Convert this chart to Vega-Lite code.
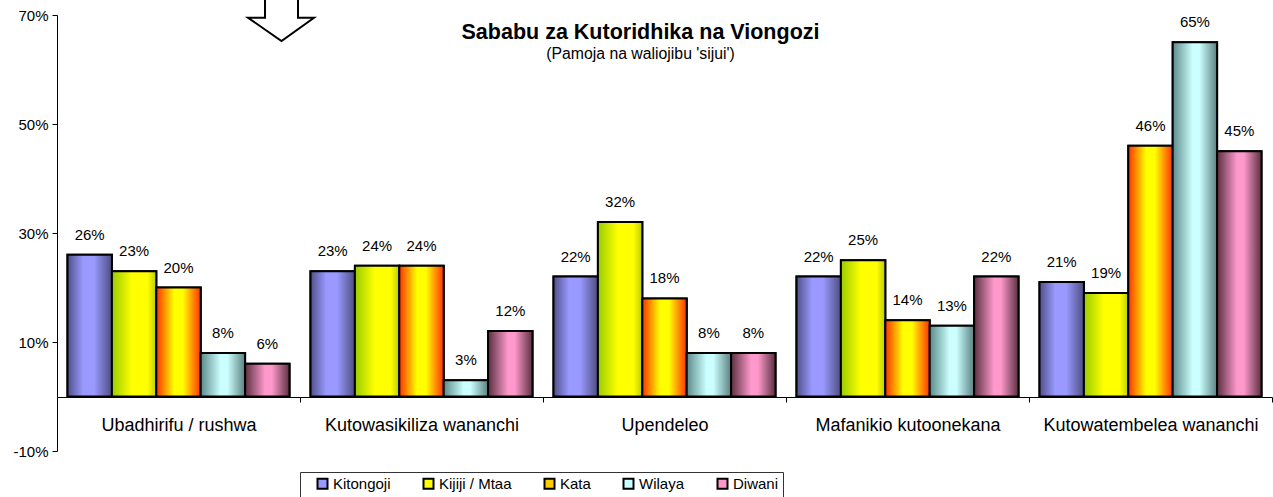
{
  "$schema": "https://vega.github.io/schema/vega-lite/v6.json",
  "width": 1215,
  "height": 436,
  "autosize": "none",
  "padding": {"left": 57, "top": 15, "right": 1, "bottom": 46},
  "background": "white",
  "config": {"font": "Liberation Sans", "view": {"stroke": null}},
  "title": {
    "text": "Sababu za Kutoridhika na Viongozi",
    "subtitle": "(Pamoja na waliojibu 'sijui')",
    "fontSize": 21.5,
    "fontWeight": "bold",
    "subtitleFontSize": 15.8,
    "color": "black",
    "subtitleColor": "black",
    "anchor": "middle",
    "frame": "group",
    "dx": -24,
    "offset": -67,
    "subtitlePadding": 4
  },
  "data": {
    "values": [
      {"sababu": "Ubadhirifu / rushwa", "ngazi": "Kitongoji", "asilimia": 0.26},
      {"sababu": "Ubadhirifu / rushwa", "ngazi": "Kijiji / Mtaa", "asilimia": 0.23},
      {"sababu": "Ubadhirifu / rushwa", "ngazi": "Kata", "asilimia": 0.20},
      {"sababu": "Ubadhirifu / rushwa", "ngazi": "Wilaya", "asilimia": 0.08},
      {"sababu": "Ubadhirifu / rushwa", "ngazi": "Diwani", "asilimia": 0.06},
      {"sababu": "Kutowasikiliza wananchi", "ngazi": "Kitongoji", "asilimia": 0.23},
      {"sababu": "Kutowasikiliza wananchi", "ngazi": "Kijiji / Mtaa", "asilimia": 0.24},
      {"sababu": "Kutowasikiliza wananchi", "ngazi": "Kata", "asilimia": 0.24},
      {"sababu": "Kutowasikiliza wananchi", "ngazi": "Wilaya", "asilimia": 0.03},
      {"sababu": "Kutowasikiliza wananchi", "ngazi": "Diwani", "asilimia": 0.12},
      {"sababu": "Upendeleo", "ngazi": "Kitongoji", "asilimia": 0.22},
      {"sababu": "Upendeleo", "ngazi": "Kijiji / Mtaa", "asilimia": 0.32},
      {"sababu": "Upendeleo", "ngazi": "Kata", "asilimia": 0.18},
      {"sababu": "Upendeleo", "ngazi": "Wilaya", "asilimia": 0.08},
      {"sababu": "Upendeleo", "ngazi": "Diwani", "asilimia": 0.08},
      {"sababu": "Mafanikio kutoonekana", "ngazi": "Kitongoji", "asilimia": 0.22},
      {"sababu": "Mafanikio kutoonekana", "ngazi": "Kijiji / Mtaa", "asilimia": 0.25},
      {"sababu": "Mafanikio kutoonekana", "ngazi": "Kata", "asilimia": 0.14},
      {"sababu": "Mafanikio kutoonekana", "ngazi": "Wilaya", "asilimia": 0.13},
      {"sababu": "Mafanikio kutoonekana", "ngazi": "Diwani", "asilimia": 0.22},
      {"sababu": "Kutowatembelea wananchi", "ngazi": "Kitongoji", "asilimia": 0.21},
      {"sababu": "Kutowatembelea wananchi", "ngazi": "Kijiji / Mtaa", "asilimia": 0.19},
      {"sababu": "Kutowatembelea wananchi", "ngazi": "Kata", "asilimia": 0.46},
      {"sababu": "Kutowatembelea wananchi", "ngazi": "Wilaya", "asilimia": 0.65},
      {"sababu": "Kutowatembelea wananchi", "ngazi": "Diwani", "asilimia": 0.45}
    ]
  },
  "encoding": {
    "x": {
      "field": "sababu",
      "type": "nominal",
      "sort": ["Ubadhirifu / rushwa", "Kutowasikiliza wananchi", "Upendeleo", "Mafanikio kutoonekana", "Kutowatembelea wananchi"],
      "scale": {"paddingInner": 0, "paddingOuter": 0},
      "axis": {
        "title": null,
        "orient": "bottom",
        "offset": -54,
        "labelAngle": 0,
        "labelFontSize": 18,
        "labelColor": "black",
        "labelPadding": 14,
        "labelLimit": 0,
        "domainColor": "black",
        "domainWidth": 1,
        "tickColor": "black",
        "tickSize": 5,
        "tickBand": "extent"
      }
    },
    "xOffset": {
      "field": "ngazi",
      "type": "nominal",
      "scale": {"domain": ["Kitongoji", "Kijiji / Mtaa", "Kata", "Wilaya", "Diwani"], "paddingInner": 0, "paddingOuter": 0.2365}
    },
    "y": {
      "field": "asilimia",
      "type": "quantitative",
      "scale": {"domain": [-0.1, 0.7], "nice": false, "zero": false},
      "axis": {
        "title": null,
        "values": [-0.1, 0.1, 0.3, 0.5, 0.7],
        "format": ".0%",
        "labelExpr": "replace(datum.label, '\u2212', '-')",
        "grid": false,
        "labelFontSize": 15,
        "labelColor": "black",
        "labelPadding": 4,
        "domainColor": "black",
        "tickColor": "black",
        "tickSize": 5
      }
    }
  },
  "layer": [
    {
      "mark": {"type": "bar", "stroke": "black", "strokeWidth": 2},
      "encoding": {
        "fill": {
          "field": "ngazi",
          "type": "nominal",
          "scale": {"domain": ["Kitongoji", "Kijiji / Mtaa", "Kata", "Wilaya", "Diwani"], "range": ["#9999ff", "#ffff00", "#ffcc00", "#ccffff", "#ff99cc"]},
          "legend": {
            "title": null,
            "orient": "none",
            "legendX": 243,
            "legendY": 457,
            "direction": "horizontal",
            "strokeColor": "#333333",
            "padding": 4,
            "symbolType": "square",
            "symbolSize": 100,
            "symbolStrokeColor": "black",
            "symbolStrokeWidth": 2,
            "symbolOffset": 11,
            "labelFontSize": 15,
            "labelColor": "black",
            "labelOffset": 3,
            "labelLimit": 0,
            "columnPadding": 19
          }
        }
      }
    },
    {
      "transform": [{"filter": "datum.ngazi == 'Kitongoji'"}],
      "mark": {"type": "bar", "stroke": "black", "strokeWidth": 2,
        "fill": {"gradient": "linear", "x1": 0, "x2": 1, "y1": 0, "y2": 0,
          "stops": [{"offset": 0, "color": "#4f4f88"}, {"offset": 0.35, "color": "#9999ff"}, {"offset": 0.6, "color": "#9999ff"}, {"offset": 1, "color": "#4d4d80"}]}}
    },
    {
      "transform": [{"filter": "datum.ngazi == 'Kijiji / Mtaa'"}],
      "mark": {"type": "bar", "stroke": "black", "strokeWidth": 2,
        "fill": {"gradient": "linear", "x1": 0, "x2": 1, "y1": 0, "y2": 0,
          "stops": [{"offset": 0, "color": "#99cc00"}, {"offset": 0.45, "color": "#ffff00"}, {"offset": 0.8, "color": "#ffff00"}, {"offset": 1, "color": "#bbcc00"}]}}
    },
    {
      "transform": [{"filter": "datum.ngazi == 'Kata'"}],
      "mark": {"type": "bar", "stroke": "black", "strokeWidth": 2,
        "fill": {"gradient": "linear", "x1": 0, "x2": 1, "y1": 0, "y2": 0,
          "stops": [{"offset": 0, "color": "#ff3300"}, {"offset": 0.4, "color": "#ffff00"}, {"offset": 0.6, "color": "#ffff00"}, {"offset": 1, "color": "#ff3300"}]}}
    },
    {
      "transform": [{"filter": "datum.ngazi == 'Wilaya'"}],
      "mark": {"type": "bar", "stroke": "black", "strokeWidth": 2,
        "fill": {"gradient": "linear", "x1": 0, "x2": 1, "y1": 0, "y2": 0,
          "stops": [{"offset": 0, "color": "#5c8a8a"}, {"offset": 0.45, "color": "#ccffff"}, {"offset": 0.6, "color": "#ccffff"}, {"offset": 1, "color": "#5a8080"}]}}
    },
    {
      "transform": [{"filter": "datum.ngazi == 'Diwani'"}],
      "mark": {"type": "bar", "stroke": "black", "strokeWidth": 2,
        "fill": {"gradient": "linear", "x1": 0, "x2": 1, "y1": 0, "y2": 0,
          "stops": [{"offset": 0, "color": "#5a3040"}, {"offset": 0.45, "color": "#ff99cc"}, {"offset": 0.6, "color": "#ff99cc"}, {"offset": 1, "color": "#5a3040"}]}}
    },
    {
      "mark": {"type": "text", "baseline": "alphabetic", "dy": -15, "fontSize": 15, "color": "black"},
      "encoding": {"text": {"field": "asilimia", "type": "quantitative", "format": ".0%"}}
    },
    {
      "data": {"values": [{"sababu": "Ubadhirifu / rushwa", "asilimia": 0.7}]},
      "mark": {"type": "point", "filled": true, "fill": "white", "stroke": "black", "strokeWidth": 2, "opacity": 1, "size": 4,
        "shape": "M86.5,-16 L119.5,-16 L119.5,2.7 L135.5,2.7 L103,26 L69.5,2.7 L86.5,2.7 Z"},
      "encoding": {"xOffset": null}
    }
  ]
}
